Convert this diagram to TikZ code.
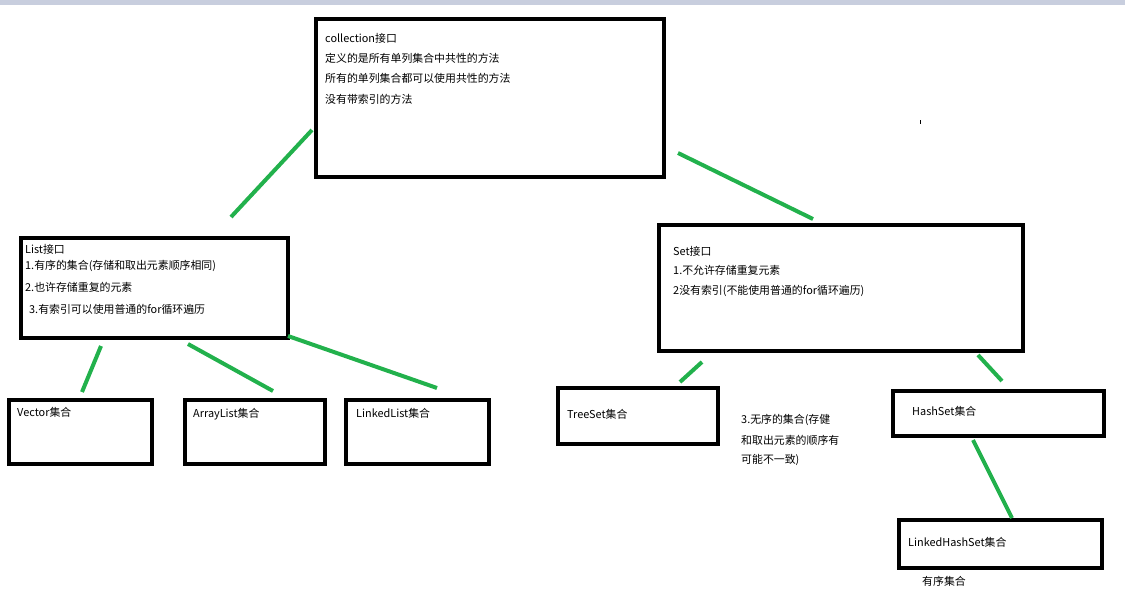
\documentclass[tikz,border=0pt]{standalone}
\usepackage{fontspec}
\setmainfont{Noto Sans CJK SC}
\definecolor{paintgreen}{RGB}{34,177,76}
\definecolor{topstrip}{RGB}{200,206,222}
\begin{document}
\begin{tikzpicture}[x=1pt,y=-1pt,
  box/.style={draw=black,line width=4pt,rectangle,inner sep=0pt,outer sep=0pt},
  txt/.style={anchor=west,inner sep=0pt,font=\fontsize{10.9}{12}\selectfont},
  link/.style={draw=paintgreen,line width=4pt}]
\useasboundingbox (0,0) rectangle (1125,614);
\fill[topstrip] (0,0) rectangle (1125,5);
% boxes
\node[box,minimum width=348pt,minimum height=158pt] (coll) at (490,98) {};
\node[box,minimum width=267pt,minimum height=100pt] (list) at (154.5,288) {};
\node[box,minimum width=364pt,minimum height=126pt] (set) at (841,288) {};
\node[box,minimum width=143pt,minimum height=64pt] (vec) at (80.5,432) {};
\node[box,minimum width=140pt,minimum height=64pt] (arr) at (255,432) {};
\node[box,minimum width=143pt,minimum height=64pt] (lnk) at (417.5,432) {};
\node[box,minimum width=160pt,minimum height=56pt] (tree) at (638,416) {};
\node[box,minimum width=211pt,minimum height=45pt] (hash) at (998.5,413.5) {};
\node[box,minimum width=203pt,minimum height=48pt] (lhs) at (1000.5,544) {};
% texts
\node[txt] (c0) at (325,38) {collection接口};
\node[txt] (c1) at (325,58) {定义的是所有单列集合中共性的方法};
\node[txt] (c2) at (325,78) {所有的单列集合都可以使用共性的方法};
\node[txt] (c3) at (325,99) {没有带索引的方法};
\node[txt] (l0) at (25,249) {List接口};
\node[txt] (l1) at (25,266) {1.有序的集合(存储和取出元素顺序相同)};
\node[txt] (l2) at (25,287) {2.也许存储重复的元素};
\node[txt] (l3) at (29,309) {3.有索引可以使用普通的for循环遍历};
\node[txt] (s0) at (673,251) {Set接口};
\node[txt] (s1) at (673,270) {1.不允许存储重复元素};
\node[txt] (s2) at (673,291) {2没有索引(不能使用普通的for循环遍历)};
\node[txt] (vt) at (17,412) {Vector集合};
\node[txt] (at) at (193,414) {ArrayList集合};
\node[txt] (lt) at (356,413) {LinkedList集合};
\node[txt] (tt) at (567,414) {TreeSet集合};
\node[txt] (ht) at (912,411) {HashSet集合};
\node[txt] (lht) at (908,542) {LinkedHashSet集合};
\node[txt] (u1) at (741,420) {3.无序的集合(存健};
\node[txt] (u2) at (741,440) {和取出元素的顺序有};
\node[txt] (u3) at (741,460) {可能不一致)};
\node[txt] (ord) at (922,581) {有序集合};
% connector ends
\coordinate (a1) at (231,217); \coordinate (a2) at (312,130);
\coordinate (b1) at (678,153); \coordinate (b2) at (813,219);
\coordinate (d1) at (101,346); \coordinate (d2) at (82,392);
\coordinate (e1) at (188,344); \coordinate (e2) at (273,391);
\coordinate (f1) at (288,336); \coordinate (f2) at (437,388);
\coordinate (g1) at (702,362); \coordinate (g2) at (680,382);
\coordinate (h1) at (978,355); \coordinate (h2) at (1002,381);
\coordinate (k1) at (973,440); \coordinate (k2) at (1012,518);
\draw[link] (a1) -- (a2);
\draw[link] (b1) -- (b2);
\draw[link] (d1) -- (d2);
\draw[link] (e1) -- (e2);
\draw[link] (f1) -- (f2);
\draw[link] (g1) -- (g2);
\draw[link] (h1) -- (h2);
\draw[link] (k1) -- (k2);
\coordinate (m1) at (920,120); \coordinate (m2) at (920,124);
\draw[line width=1pt] (m1) -- (m2);
\end{tikzpicture}
\end{document}
